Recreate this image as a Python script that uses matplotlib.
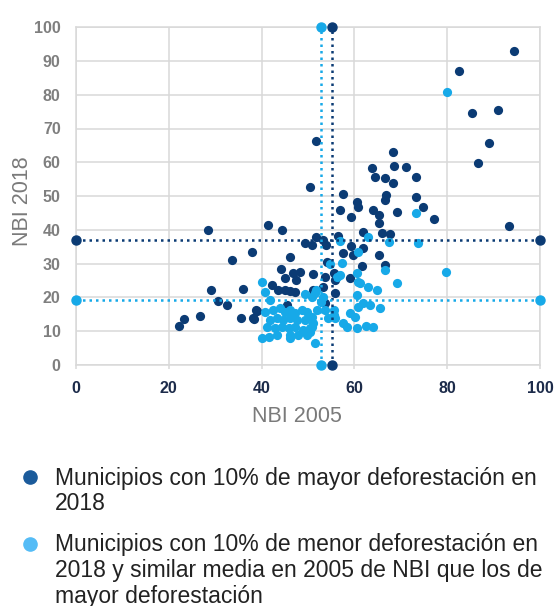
import matplotlib
matplotlib.use("Agg")
import matplotlib.pyplot as plt
from matplotlib.lines import Line2D

plt.rcParams['font.family'] = ['Liberation Sans', 'DejaVu Sans']

# ---------------- data ----------------
dark_x = [28.5, 41.4, 44.5, 37.9, 33.7, 46.1, 29.0, 36.0, 30.7, 32.6, 23.3, 22.3, 26.8, 35.6, 38.4,
          39.1, 44.1, 49.4, 50.8, 51.7, 48.3, 46.8, 45.0, 47.5, 51.1, 42.2, 43.6, 45.0, 46.1, 47.2,
          38.9, 38.2, 45.4, 51.7, 50.4, 68.4, 63.7, 68.5, 71.1, 64.4, 66.6, 68.3, 73.3, 57.6, 60.5,
          60.8, 56.9, 59.2, 64.1, 65.2, 66.9, 66.6, 69.1, 73.3, 74.7, 65.2, 61.9, 65.9, 67.7, 53.3,
          53.9, 56.5, 59.2, 57.5, 59.8, 61.9, 65.2, 61.6, 54.0, 66.6, 59.0, 55.5, 55.9, 53.3, 55.8,
          51.1, 53.7, 53.7, 94.5, 82.6, 85.3, 90.9, 89.0, 86.6, 77.2, 93.4]
dark_y = [39.9, 41.4, 39.9, 33.4, 31.0, 32.0, 22.1, 22.5, 19.0, 17.6, 13.6, 11.5, 14.3, 14.0, 13.6,
          16.0, 28.3, 36.0, 35.5, 38.0, 27.6, 27.3, 25.6, 25.1, 26.8, 23.6, 22.1, 22.1, 21.9, 21.7,
          16.2, 13.8, 17.7, 66.4, 52.8, 62.9, 58.2, 59.0, 58.7, 55.5, 55.2, 54.0, 55.7, 50.6, 48.3,
          46.6, 45.9, 43.9, 45.9, 44.4, 50.3, 48.8, 45.4, 49.8, 46.6, 41.9, 39.4, 38.9, 38.7, 37.0,
          35.5, 38.1, 35.2, 33.0, 32.5, 34.5, 32.5, 29.3, 30.5, 29.6, 25.6, 27.1, 25.1, 23.1, 21.2,
          22.1, 26.1, 18.2, 93.1, 87.1, 74.7, 75.5, 65.6, 59.9, 43.1, 41.2]

light_x = [79.9, 79.7, 73.8, 73.3, 67.5, 63.0, 60.8, 57.0, 57.3, 54.7, 56.2, 56.9, 60.5, 61.2, 63.0,
           64.8, 66.6, 69.2, 60.5, 60.8, 61.9, 63.4, 65.5, 59.1, 60.1, 57.6, 58.3, 60.5, 62.6, 64.1,
           49.4, 51.5, 53.3, 55.5, 55.9, 54.4, 51.5, 40.0, 40.7, 41.8, 50.8, 51.7, 40.0, 41.7, 46.1,
           60.8, 53.7, 55.5, 51.9, 50.8, 50.8, 51.1, 52.9, 40.7, 42.5, 44.0, 45.0, 46.1, 47.2, 48.6,
           49.7, 41.8, 43.3, 44.7, 46.1, 47.6, 49.4, 41.1, 42.9, 44.3, 45.8, 47.2, 49.0, 50.4, 43.3,
           46.1, 47.9, 49.7, 50.4]
light_y = [80.8, 27.4, 36.0, 44.9, 36.5, 37.8, 33.5, 36.8, 30.2, 30.0, 26.1, 26.6, 27.1, 24.1, 23.1,
           22.1, 28.1, 24.3, 20.7, 17.2, 18.2, 17.7, 16.7, 15.2, 14.2, 12.3, 11.3, 10.8, 11.5, 11.3,
           21.0, 21.2, 20.2, 14.7, 13.8, 13.8, 6.4, 24.6, 21.7, 19.2, 20.2, 22.1, 7.8, 8.3, 7.8,
           24.6, 16.2, 16.2, 16.2, 14.2, 11.3, 12.3, 18.7, 15.7, 16.2, 16.7, 15.7, 16.2, 15.2, 16.2,
           15.7, 13.3, 13.8, 13.3, 13.8, 13.3, 13.3, 11.3, 10.8, 11.3, 10.8, 11.3, 10.3, 10.8, 8.8,
           8.8, 8.8, 8.8, 9.8]

# group means (reference lines)
dark_mean_x, dark_mean_y = 55.2, 37.0
light_mean_x, light_mean_y = 52.9, 19.2

x_ticks = [0, 20, 40, 60, 80, 100]
y_ticks = [0, 10, 20, 30, 40, 50, 60, 70, 80, 90, 100]
x_title = "NBI 2005"
y_title = "NBI 2018"
legend_dark = ["Municipios con 10% de mayor deforestación en", "2018"]
legend_light = ["Municipios con 10% de menor deforestación en",
                "2018 y similar media en 2005 de NBI que los de",
                "mayor deforestación"]

# ---------------- style ----------------
DARK = "#0b3b74"
LIGHT = "#17a9e8"
GRID = "#d9d9d9"

W, H = 558, 606
fig = plt.figure(figsize=(W / 100, H / 100), dpi=100)
ax = fig.add_axes([76 / W, 1 - 364.75 / H, (540 - 76) / W, (364.75 - 27.25) / H])

ax.set_xlim(0, 100)
ax.set_ylim(0, 100)
ax.set_xticks(x_ticks)
ax.set_yticks(y_ticks)
ax.grid(True, color=GRID, linewidth=1.1, zorder=0)
ax.set_axisbelow(True)
for s in ax.spines.values():
    s.set_color(GRID)
    s.set_linewidth(1.1)

ax.tick_params(axis='x', length=3, width=1.1, color=GRID, pad=9,
               labelsize=11.5, labelcolor="#1c2b4a")
ax.tick_params(axis='y', length=0, pad=11, labelsize=11.5, labelcolor="#7f7f7f")
for lab in ax.get_xticklabels() + ax.get_yticklabels():
    lab.set_fontweight('bold')

ax.scatter(dark_x, dark_y, s=44, color=DARK, linewidths=0, zorder=3)
ax.scatter(light_x, light_y, s=44, color=LIGHT, linewidths=0, zorder=4)

dot = (0, (1, 1.6))
lw = 1.8
for mx, my, c in [(dark_mean_x, dark_mean_y, DARK), (light_mean_x, light_mean_y, LIGHT)]:
    ax.plot([0, 100], [my, my], color=c, lw=lw, linestyle=dot, dash_capstyle='butt',
            marker='o', ms=6.5, clip_on=False, zorder=5)
    ax.plot([mx, mx], [0, 100], color=c, lw=lw, linestyle=dot, dash_capstyle='butt',
            marker='o', ms=6.5, clip_on=False, zorder=5)

fig.text(297 / W, 1 - 417 / H, x_title, ha='center', va='center', fontsize=15.5, color="#7a7a7a")
fig.text(23 / W, 1 - 201 / H, y_title, ha='center', va='center', rotation=90,
         fontsize=15.5, color="#7a7a7a")

# legend
fs = 16.5
for i, t in enumerate(legend_dark):
    fig.text(55 / W, 1 - (478 + 25 * i) / H, t, ha='left', va='center', fontsize=fs, color="#222222")
for i, t in enumerate(legend_light):
    fig.text(55 / W, 1 - (545 + 25.5 * i) / H, t, ha='left', va='center', fontsize=fs, color="#222222")
fig.add_artist(Line2D([30 / W], [1 - 477 / H], marker='o', ms=9.5, color="#1b5b9b",
                      linestyle='none', transform=fig.transFigure))
fig.add_artist(Line2D([30 / W], [1 - 544 / H], marker='o', ms=9.5, color="#55bcf6",
                      linestyle='none', transform=fig.transFigure))

fig.savefig("out.png", dpi=100)
